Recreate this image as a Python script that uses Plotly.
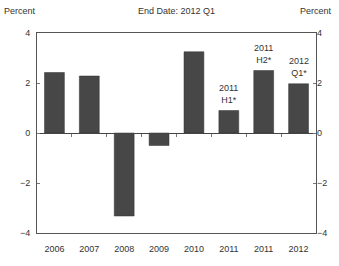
import plotly.graph_objects as go

years = ["2006", "2007", "2008", "2009", "2010", "2011", "2011", "2012"]
values = [2.42, 2.28, -3.32, -0.5, 3.25, 0.9, 2.5, 1.97]
bar_notes = ["", "", "", "", "", "2011<br>H1*", "2011<br>H2*", "2012<br>Q1*"]
y_ticks = [-4, -2, 0, 2, 4]

xs = list(range(len(years)))
font = "Liberation Sans, Arial, sans-serif"

fig = go.Figure()
fig.add_trace(go.Bar(
    x=xs, y=values, marker=dict(color="#474747", line=dict(color="#333333", width=0.5)),
    showlegend=False, hoverinfo="skip"))
# invisible trace for right axis
fig.add_trace(go.Scatter(x=[xs[0]], y=[0], yaxis="y2", mode="markers",
                         marker=dict(opacity=0), showlegend=False, hoverinfo="skip"))
# invisible trace for zero-line axis
fig.add_trace(go.Scatter(x=[xs[0]], y=[0], xaxis="x2", mode="markers",
                         marker=dict(opacity=0), showlegend=False, hoverinfo="skip"))

notes = [dict(text=t, x=x, y=v, xref="x", yref="y", showarrow=False, yanchor="bottom",
              yshift=4, font=dict(size=9, color="#333333"))
         for x, v, t in zip(xs, values, bar_notes) if t]

fig.update_layout(
    width=339, height=266,
    margin=dict(l=37, r=18, t=33, b=23),
    paper_bgcolor="white", plot_bgcolor="white",
    bargap=0.43,
    font=dict(family=font, size=9, color="#333333"),
    xaxis=dict(range=[-0.5, len(years) - 0.5], tickvals=xs, ticktext=years,
               showline=True, linecolor="#555555", linewidth=1, mirror=True,
               ticks="", showgrid=False, zeroline=False, tickfont=dict(size=9),
               ticklabelstandoff=7),
    xaxis2=dict(range=[-0.5, len(years) - 0.5], overlaying="x", anchor="free", position=0.5,
                tickvals=[i + 0.5 for i in xs[:-1]], ticktext=[""] * (len(xs) - 1),
                ticks="outside", ticklen=3, tickcolor="#777777",
                showline=True, linecolor="#444444", linewidth=1, showgrid=False, zeroline=False),
    yaxis=dict(range=[-4, 4], tickvals=y_ticks, ticks="inside", ticklen=3, tickcolor="#777777",
               showline=True, linecolor="#555555", linewidth=1, mirror=True,
               showgrid=False, zeroline=False, tickfont=dict(size=9), ticklabelstandoff=4),
    yaxis2=dict(range=[-4, 4], tickvals=y_ticks, overlaying="y", side="right",
                ticks="inside", ticklen=3, tickcolor="#777777",
                showline=False, showgrid=False, zeroline=False, tickfont=dict(size=9)),
    annotations=notes + [
        dict(text="End Date: 2012 Q1", xref="paper", yref="paper", x=0.5, y=1, yshift=15,
             showarrow=False, xanchor="center", yanchor="bottom", font=dict(size=9)),
        dict(text="Percent", xref="paper", yref="paper", x=0, xshift=-35, y=1, yshift=15,
             showarrow=False, xanchor="left", yanchor="bottom", font=dict(size=9)),
        dict(text="Percent", xref="paper", yref="paper", x=1, xshift=18, y=1, yshift=15,
             showarrow=False, xanchor="right", yanchor="bottom", font=dict(size=9)),
    ],
)

fig.write_html("out.html", config={"displayModeBar": False},
               post_script="document.body.style.margin='0';document.body.style.overflow='hidden';")
